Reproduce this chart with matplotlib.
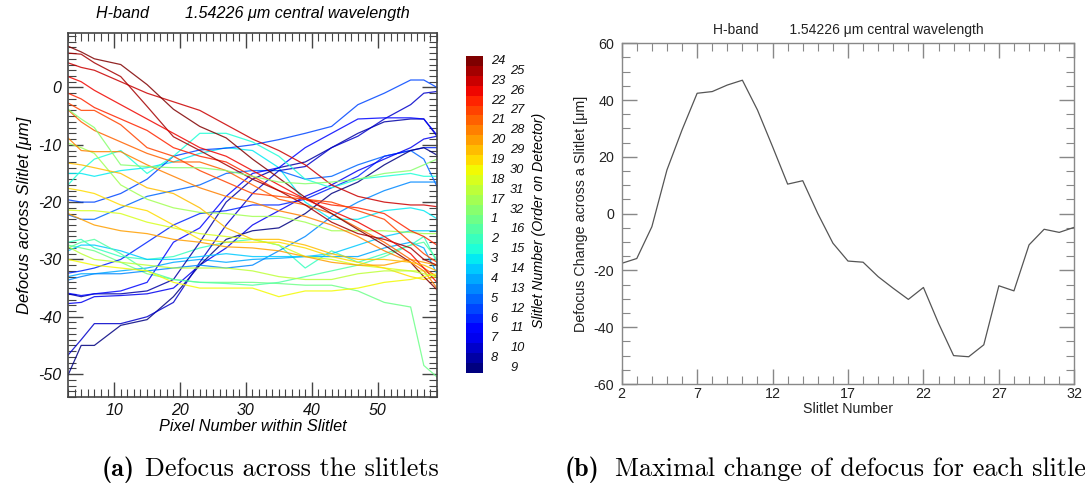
import matplotlib
matplotlib.use("Agg")
import matplotlib.pyplot as plt
import numpy as np
from matplotlib.ticker import MultipleLocator

plt.rcParams["axes.unicode_minus"] = False

# pixel positions sampled along each slitlet
PIXELS = [3, 5, 7, 11, 15, 19, 23, 27, 31, 35, 39, 43, 47, 51, 55, 57, 59]

# defocus [um] along each slitlet
S01 = [-27.5, -28.0, -28.5, -30.5, -32.5, -33.5, -34.0, -34.0, -34.0, -34.2, -34.5, -34.5, -35.5, -37.5, -38.3, -48.5, -50.5]
S02 = [-27.0, -26.5, -28.0, -29.5, -30.0, -29.5, -28.0, -27.0, -26.5, -27.5, -31.5, -28.5, -30.5, -29.0, -27.5, -26.0, -30.5]
S03 = [-15.0, -15.0, -15.5, -14.5, -14.0, -13.0, -11.5, -10.5, -11.0, -14.0, -20.0, -23.0, -23.0, -21.5, -21.0, -21.5, -22.9]
S04 = [-33.0, -32.5, -32.5, -32.0, -31.5, -30.5, -30.0, -30.5, -30.0, -29.8, -29.5, -29.5, -29.5, -28.0, -27.0, -28.0, -32.5]
S05 = [-22.2, -23.0, -23.0, -21.0, -19.0, -18.0, -17.0, -15.0, -14.5, -14.5, -16.0, -15.5, -13.5, -12.0, -11.0, -12.5, -17.3]
S06 = [-32.4, -32.0, -31.5, -30.0, -27.0, -24.0, -22.0, -21.5, -20.5, -20.5, -19.5, -17.5, -15.5, -12.0, -11.0, -10.5, -10.5]
S07 = [-37.7, -37.5, -36.5, -36.3, -36.0, -35.0, -31.0, -28.0, -24.0, -21.5, -19.0, -17.0, -14.5, -12.5, -10.5, -9.0, -8.5]
S08 = [-36.0, -36.5, -36.0, -36.0, -35.5, -33.5, -27.0, -20.0, -16.0, -14.0, -13.0, -10.5, -8.0, -6.0, -5.5, -5.5, -8.5]
S09 = [-50.2, -45.0, -45.0, -41.5, -40.5, -36.5, -31.0, -26.5, -25.0, -24.5, -22.0, -18.5, -16.5, -13.5, -11.0, -10.5, -11.8]
S10 = [-46.7, -44.0, -41.2, -41.2, -40.0, -37.5, -30.5, -24.0, -18.5, -14.5, -13.8, -10.5, -8.5, -5.5, -3.0, -1.0, -0.7]
S11 = [-35.9, -36.3, -36.0, -35.5, -34.0, -27.0, -24.5, -19.0, -15.0, -14.0, -10.5, -8.0, -5.5, -5.3, -5.3, -5.5, -8.3]
S12 = [-19.6, -20.0, -20.0, -18.5, -16.0, -12.0, -10.9, -10.6, -10.0, -9.1, -8.0, -6.8, -3.0, -1.0, 1.3, 1.3, 0.0]
S13 = [-33.6, -33.0, -32.5, -32.5, -32.0, -31.5, -31.0, -31.5, -31.0, -28.5, -26.0, -22.5, -20.0, -18.0, -16.5, -16.5, -16.5]
S14 = [-28.5, -27.5, -27.5, -28.5, -30.0, -30.0, -29.5, -29.0, -29.5, -29.5, -29.5, -29.0, -27.5, -26.0, -25.0, -25.0, -25.0]
S15 = [-17.0, -14.5, -12.5, -11.0, -15.0, -12.0, -8.0, -8.0, -9.5, -12.0, -16.0, -17.5, -16.0, -15.5, -15.0, -15.5, -15.5]
S16 = [-28.0, -27.0, -26.5, -29.0, -32.0, -33.5, -34.0, -34.2, -34.5, -34.0, -33.0, -32.0, -31.0, -29.5, -27.5, -27.0, -30.0]
S17 = [-9.7, -10.5, -11.5, -17.0, -19.5, -21.0, -21.8, -22.0, -22.5, -22.5, -23.5, -25.0, -25.0, -25.0, -25.3, -25.5, -25.5]
S18 = [-21.4, -21.5, -21.5, -22.0, -23.5, -24.5, -25.5, -26.0, -26.5, -27.5, -29.5, -30.0, -31.0, -31.5, -32.0, -32.0, -33.0]
S19 = [-17.6, -18.0, -18.5, -20.5, -21.5, -24.0, -26.5, -27.0, -27.0, -27.0, -28.0, -29.5, -30.5, -31.5, -33.0, -33.5, -33.0]
S20 = [-22.0, -23.0, -24.0, -25.0, -25.5, -26.5, -27.0, -27.8, -28.0, -28.5, -29.5, -30.5, -31.0, -31.0, -30.0, -30.5, -31.0]
S21 = [-3.9, -6.0, -7.5, -9.5, -11.5, -13.0, -13.0, -14.5, -17.0, -19.5, -20.5, -22.0, -24.5, -27.0, -30.0, -31.5, -33.0]
S22 = [-1.0, -2.0, -3.5, -5.5, -7.5, -10.5, -12.0, -13.0, -15.5, -18.0, -19.5, -20.5, -21.0, -22.0, -25.0, -26.0, -27.5]
S23 = [4.3, 3.5, 3.0, 1.0, -1.0, -2.5, -4.0, -6.5, -9.0, -11.0, -13.5, -17.0, -19.0, -20.0, -20.5, -20.5, -20.8]
S24 = [7.2, 6.2, 5.0, 4.0, 0.5, -3.8, -6.8, -8.8, -12.5, -15.8, -19.2, -22.0, -24.8, -27.5, -30.5, -33.0, -35.3]
S25 = [6.0, 5.8, 4.3, 1.9, -3.3, -8.6, -11.0, -13.5, -16.0, -18.0, -20.5, -23.5, -25.5, -26.5, -28.0, -30.0, -31.0]
S26 = [1.9, 1.0, -0.5, -3.0, -5.5, -8.0, -10.5, -12.0, -14.5, -17.0, -19.5, -21.5, -23.5, -26.0, -29.0, -31.5, -34.0]
S27 = [-2.7, -4.0, -4.0, -6.5, -10.5, -12.0, -14.5, -16.5, -18.5, -19.0, -19.5, -20.0, -21.5, -23.0, -27.0, -29.0, -30.5]
S28 = [-8.8, -11.0, -11.2, -11.2, -13.5, -15.5, -17.5, -19.0, -20.0, -21.5, -22.5, -24.0, -26.0, -28.5, -30.5, -32.0, -35.0]
S29 = [-13.2, -13.5, -14.0, -15.0, -17.5, -18.5, -21.0, -24.5, -26.5, -26.5, -27.5, -29.0, -30.0, -30.0, -30.5, -31.0, -32.0]
S30 = [-30.0, -30.5, -31.0, -31.5, -32.0, -34.0, -35.0, -35.0, -35.0, -36.5, -35.5, -35.5, -35.0, -34.0, -33.5, -33.0, -32.5]
S31 = [-27.8, -29.0, -30.0, -30.5, -31.0, -31.5, -31.5, -31.5, -32.0, -33.0, -33.5, -33.5, -32.5, -32.0, -32.0, -32.5, -33.0]
S32 = [-3.8, -5.5, -7.0, -13.5, -13.8, -14.0, -14.0, -14.5, -15.5, -16.5, -16.8, -16.5, -16.0, -15.0, -14.5, -13.5, -12.5]

PROFILES = [S01, S02, S03, S04, S05, S06, S07, S08, S09, S10, S11, S12, S13, S14, S15, S16,
            S17, S18, S19, S20, S21, S22, S23, S24, S25, S26, S27, S28, S29, S30, S31, S32]

# colour bar order (bottom -> top)
ORDER_ON_DETECTOR = [9, 8, 10, 7, 11, 6, 12, 5, 13, 4, 14, 3, 15, 2, 16, 1,
                     32, 17, 31, 18, 30, 19, 29, 20, 28, 21, 27, 22, 26, 23, 25, 24]

# panel (b)
SLITLET_NUMBER = list(range(2, 33))
MAX_CHANGE = [-17.5, -15.8, -4.6, 15.4, 29.5, 42.4, 43.0, 45.3, 47.0, 36.5, 23.6, 10.4, 11.6, 0.0,
              -10.4, -16.7, -17.1, -22.2, -26.3, -30.2, -26.0, -38.6, -50.0, -50.4, -46.2, -25.4,
              -27.2, -11.0, -5.5, -6.6, -4.8]
SLITLET_TICKS = [2, 7, 12, 17, 22, 27, 32]

W, H = 1085, 484
SANS = "Liberation Sans"


def px_axes(fig, x0, y0, x1, y1):
    return fig.add_axes([x0 / W, 1 - y1 / H, (x1 - x0) / W, (y1 - y0) / H])


fig = plt.figure(figsize=(W / 100, H / 100), dpi=100)
fig.patch.set_facecolor("white")
cmap = plt.get_cmap("jet", 32)

# ---- panel (a) ----
ax = px_axes(fig, 68, 33, 437, 397)
for sid, prof in zip(range(1, 33), PROFILES):
    c = cmap(ORDER_ON_DETECTOR.index(sid))
    ax.plot(PIXELS, prof, color=c, lw=0.9, alpha=0.85)
ax.set_xlim(3, 59)
ax.set_ylim(-54, 9.5)
ax.xaxis.set_major_locator(MultipleLocator(10))
ax.xaxis.set_minor_locator(MultipleLocator(1))
ax.yaxis.set_major_locator(MultipleLocator(10))
ax.yaxis.set_minor_locator(MultipleLocator(1))
ax.tick_params(which="both", direction="in", top=True, right=True, color="#444444",
               labelsize=11.5, labelcolor="#111111")
ax.tick_params(which="major", length=11, width=1.0)
ax.tick_params(axis="x", which="major", pad=4)
ax.tick_params(axis="y", which="major", pad=5)
ax.tick_params(which="minor", length=6, width=0.8)
for lab in ax.get_xticklabels() + ax.get_yticklabels():
    lab.set_fontfamily(SANS)
    lab.set_fontstyle("italic")
for sp in ax.spines.values():
    sp.set_color("#444444")
    sp.set_linewidth(1.2)
ax.set_xlabel("Pixel Number within Slitlet", fontsize=11.7, family=SANS, style="italic", labelpad=1)
ax.set_ylabel("Defocus across Slitlet [\u03bcm]", fontsize=12, family=SANS, style="italic", labelpad=4)
ax.set_title("H-band        1.54226 \u03bcm central wavelength", fontsize=11.6, family=SANS,
             style="italic", pad=11)

# colour bar with the two label columns
cax = px_axes(fig, 466, 56, 483, 373)
cax.imshow(np.arange(32)[:, None], cmap=cmap, aspect="auto", origin="lower",
           extent=[0, 1, 0, 32], interpolation="nearest")
cax.set_xticks([])
cax.set_yticks([])
for sp in cax.spines.values():
    sp.set_visible(False)
for i, sid in enumerate(ORDER_ON_DETECTOR):
    xoff = 1.45 if i % 2 == 1 else 2.6
    cax.text(xoff, i + 0.5, str(sid), transform=cax.transData, ha="left", va="center",
             fontsize=9.3, family=SANS, style="italic", color="#111111", clip_on=False)
fig.text(539 / W, 1 - 220 / H, "Slitlet Number (Order on Detector)", rotation=90,
         ha="center", va="center", fontsize=10.2, family=SANS, style="italic")

# ---- panel (b) ----
bx = px_axes(fig, 621.7, 43.3, 1074.3, 384)
bx.plot(SLITLET_NUMBER, MAX_CHANGE, color="#555555", lw=0.9)
bx.set_xlim(2, 32)
bx.set_ylim(-60, 60)
bx.set_xticks(SLITLET_TICKS)
bx.xaxis.set_minor_locator(MultipleLocator(1))
bx.yaxis.set_major_locator(MultipleLocator(20))
bx.yaxis.set_minor_locator(MultipleLocator(5))
bx.tick_params(which="both", direction="in", top=True, right=True, color="#888888",
               labelsize=10.3, labelcolor="#222222")
bx.tick_params(which="major", length=11, width=1.0)
bx.tick_params(axis="x", which="major", pad=2)
bx.tick_params(axis="y", which="major", pad=5.5)
bx.tick_params(which="minor", length=6, width=0.8)
for lab in bx.get_xticklabels() + bx.get_yticklabels():
    lab.set_fontfamily(SANS)
for sp in bx.spines.values():
    sp.set_color("#888888")
    sp.set_linewidth(1.0)
bx.set_xlabel("Slitlet Number", fontsize=10.3, family=SANS, color="#222222", labelpad=1)
bx.set_ylabel("Defocus Change across a Slitlet [\u03bcm]", fontsize=10.3, family=SANS,
              color="#222222", labelpad=4)
bx.set_title("H-band        1.54226 \u03bcm central wavelength", fontsize=10, family=SANS,
             color="#222222", pad=7)

# ---- captions (the (b) caption runs off the right edge, as in the original page crop) ----
CAP_Y = 1 - 476 / H
fig.text(102 / W, CAP_Y, "(a)", fontsize=18.8, family="cmb10", va="baseline", ha="left")
fig.text(145 / W, CAP_Y, "Defocus across the slitlets", fontsize=18.8, family="cmr10",
         va="baseline", ha="left")
fig.text(565 / W, CAP_Y, "(b)", fontsize=18.8, family="cmb10", va="baseline", ha="left")
fig.text(615 / W, CAP_Y, "Maximal change of defocus for each slitlet", fontsize=18.8,
         family="cmr10", va="baseline", ha="left")

fig.savefig("out.png", dpi=100, facecolor="white")
